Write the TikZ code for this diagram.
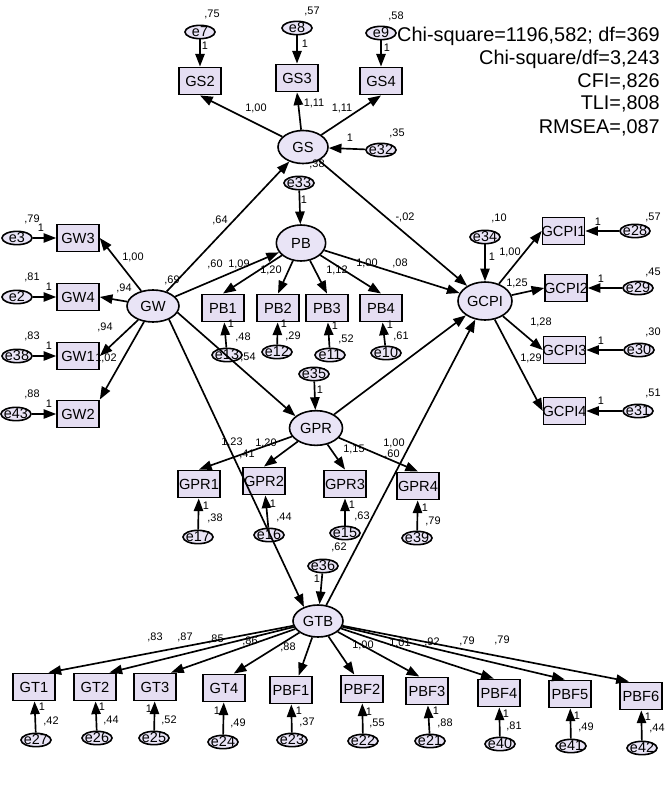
\documentclass[tikz,border=0pt]{standalone}
\usepackage{fontspec}
\setmainfont{Liberation Sans}
\usetikzlibrary{shapes.geometric,arrows.meta,calc}
\definecolor{boxfill}{RGB}{229,222,242}
\definecolor{ellfill}{RGB}{233,228,246}
\newcommand\zw[1]{\makebox[0pt]{#1}}
\newcommand\lb[3]{\node[num] (#1) at (#2) {#3};}
\tikzset{
 obs/.style={draw, line width=1.2pt, fill=boxfill, rectangle, minimum width=31.5pt, minimum height=20.5pt, inner sep=0pt, font=\fontsize{11}{13}\selectfont, text height=7.8pt, text depth=0pt},
 lat/.style={draw, line width=1.2pt, fill=ellfill, ellipse, inner sep=0pt, font=\fontsize{11}{13}\selectfont, text height=7.8pt, text depth=0pt},
 err/.style={draw, line width=1.2pt, fill=ellfill, ellipse, minimum width=22.5pt, minimum height=10pt, inner sep=0pt, font=\fontsize{10.8}{12}\selectfont, text height=6.8pt, text depth=0pt},
 num/.style={inner sep=0pt, font=\fontsize{8.2}{9}\selectfont},
 pth/.style={line width=1.25pt, -{Triangle[length=9.5pt,width=7pt]}},
 stat/.style={inner sep=0pt, anchor=base east, font=\fontsize{14.9}{17}\selectfont},
}
\begin{document}
\begin{tikzpicture}[x=0.75pt,y=-0.75pt]
\fill[white] (0,0) rectangle (669,788);
\useasboundingbox (0,0) rectangle (669,788);

% ---------- fit statistics
\node[stat] (st1) at (660,42) {Chi-square=1196,582; df=369};
\node[stat] (st2) at (660,65) {Chi-square/df=3,243};
\node[stat] (st3) at (660,88) {CFI=,826};
\node[stat] (st4) at (660,110) {TLI=,808};
\node[stat] (st5) at (660,133) {RMSEA=,087};

% ---------- latent variables
\node[lat, minimum width=37.5pt, minimum height=24.75pt] (GS) at (303,147) {\zw{GS}};
\node[lat, minimum width=39pt, minimum height=24pt] (GW) at (153,306) {\zw{GW}};
\node[lat, minimum width=37pt, minimum height=27pt] (PB) at (301,243) {\zw{PB}};
\node[lat, minimum width=40.5pt, minimum height=28.5pt] (GCPI) at (485,301) {\zw{GCPI}};
\node[lat, minimum width=39.75pt, minimum height=26pt] (GPR) at (316,428) {\zw{GPR}};
\node[lat, minimum width=37.5pt, minimum height=24pt] (GTB) at (318,621) {\zw{GTB}};

% ---------- observed variables
\node[obs] (GS2) at (200,81) {\zw{GS2}};
\node[obs] (GS3) at (297,78) {\zw{GS3}};
\node[obs] (GS4) at (381,81) {\zw{GS4}};
\node[obs] (GW3) at (78,238) {\zw{GW3}};
\node[obs] (GW4) at (78,297) {\zw{GW4}};
\node[obs] (GW1) at (78,356) {\zw{GW1}};
\node[obs] (GW2) at (78,414) {\zw{GW2}};
\node[obs] (PB1) at (223,308) {\zw{PB1}};
\node[obs] (PB2) at (278,308) {\zw{PB2}};
\node[obs] (PB3) at (327,308) {\zw{PB3}};
\node[obs] (PB4) at (381,308) {\zw{PB4}};
\node[obs] (GCPI1) at (563.5,231) {\zw{GCPI1}};
\node[obs] (GCPI2) at (566,288) {\zw{GCPI2}};
\node[obs] (GCPI3) at (564.5,350) {\zw{GCPI3}};
\node[obs] (GCPI4) at (564.5,411) {\zw{GCPI4}};
\node[obs] (GPR1) at (199,484) {\zw{GPR1}};
\node[obs] (GPR2) at (264,481) {\zw{GPR2}};
\node[obs] (GPR3) at (345,484) {\zw{GPR3}};
\node[obs] (GPR4) at (418,486) {\zw{GPR4}};
\node[obs] (GT1) at (34,687) {\zw{GT1}};
\node[obs] (GT2) at (95,687) {\zw{GT2}};
\node[obs] (GT3) at (155,687) {\zw{GT3}};
\node[obs] (GT4) at (224,688) {\zw{GT4}};
\node[obs] (PBF1) at (291,690) {\zw{PBF1}};
\node[obs] (PBF2) at (362,689) {\zw{PBF2}};
\node[obs] (PBF3) at (427,691) {\zw{PBF3}};
\node[obs] (PBF4) at (499,693) {\zw{PBF4}};
\node[obs] (PBF5) at (570,694) {\zw{PBF5}};
\node[obs] (PBF6) at (641,696) {\zw{PBF6}};

% ---------- error terms
\node[err] (e7) at (200,32) {\zw{e7}};
\node[err] (e8) at (297,28) {\zw{e8}};
\node[err] (e9) at (381,33) {\zw{e9}};
\node[err] (e32) at (381,150) {\zw{e32}};
\node[err] (e33) at (299,183) {\zw{e33}};
\node[err] (e3) at (17,238) {\zw{e3}};
\node[err] (e2) at (17,297) {\zw{e2}};
\node[err] (e38) at (17,356) {\zw{e38}};
\node[err] (e43) at (16,414) {\zw{e43}};
\node[err] (e13) at (227,355) {\zw{e13}};
\node[err] (e12) at (277,352) {\zw{e12}};
\node[err] (e11) at (330,355) {\zw{e11}};
\node[err] (e10) at (386,353) {\zw{e10}};
\node[err] (e34) at (485,237) {\zw{e34}};
\node[err] (e28) at (635,231) {\zw{e28}};
\node[err] (e29) at (638,288) {\zw{e29}};
\node[err] (e30) at (639,350) {\zw{e30}};
\node[err] (e31) at (638,411) {\zw{e31}};
\node[err] (e35) at (314,374) {\zw{e35}};
\node[err] (e17) at (198,537) {\zw{e17}};
\node[err] (e16) at (269,535) {\zw{e16}};
\node[err] (e15) at (345,533) {\zw{e15}};
\node[err] (e39) at (417,538) {\zw{e39}};
\node[err] (e36) at (323,566) {\zw{e36}};
\node[err] (e27) at (36,740) {\zw{e27}};
\node[err] (e26) at (97,738) {\zw{e26}};
\node[err] (e25) at (154,738) {\zw{e25}};
\node[err] (e24) at (223,742) {\zw{e24}};
\node[err] (e23) at (292,740) {\zw{e23}};
\node[err] (e22) at (363,741) {\zw{e22}};
\node[err] (e21) at (430,741) {\zw{e21}};
\node[err] (e40) at (500,744) {\zw{e40}};
\node[err] (e41) at (571,746) {\zw{e41}};
\node[err] (e42) at (642,748) {\zw{e42}};

% ---------- structural paths
\draw[pth] (GW) -- (GS);
\draw[pth] (GW) -- (PB);
\draw[pth] (GW.-15) -- (GPR.150);
\draw[pth] (GW.-40) -- (GTB.135);
\draw[pth] (GS) -- (GCPI);
\draw[pth] (PB) -- (GCPI);
\draw[pth] (GPR) -- (GCPI);
\draw[pth] (GTB) -- (GCPI);

% ---------- loadings
\draw[pth] (GS) -- (GS2.south);
\draw[pth] (GS) -- (GS3.south);
\draw[pth] (GS) -- (GS4.south);
\draw[pth] (GW) -- (GW3.east);
\draw[pth] (GW) -- (GW4.east);
\draw[pth] (GW) -- (GW1.east);
\draw[pth] (GW) -- (GW2.north east);
\draw[pth] (PB) -- (PB1.north);
\draw[pth] (PB) -- (PB2.north);
\draw[pth] (PB) -- (PB3.north);
\draw[pth] (PB) -- (PB4.north);
\draw[pth] (GCPI) -- (GCPI1.west);
\draw[pth] (GCPI) -- (GCPI2.west);
\draw[pth] (GCPI) -- (GCPI3.west);
\draw[pth] (GCPI) -- (GCPI4.west);
\draw[pth] (GPR) -- (GPR1.north);
\draw[pth] (GPR) -- (GPR2.north);
\draw[pth] (GPR) -- (GPR3.north);
\draw[pth] (GPR) -- (GPR4.north);
\draw[pth] (GTB) -- (GT1.45);
\draw[pth] (GTB) -- (GT2.45);
\draw[pth] (GTB) -- (GT3.42);
\draw[pth] (GTB) -- (GT4.56);
\draw[pth] (GTB) -- (PBF1.62);
\draw[pth] (GTB) -- (PBF2.118);
\draw[pth] (GTB) -- (PBF3.118);
\draw[pth] (GTB) -- (PBF4.110);
\draw[pth] (GTB) -- (PBF5.110);
\draw[pth] (GTB) -- (PBF6.130);

% ---------- error arrows
\draw[pth] (e7) -- (GS2);
\draw[pth] (e8) -- (GS3);
\draw[pth] (e9) -- (GS4);
\draw[pth] (e32) -- (GS);
\draw[pth] (e33) -- (PB);
\draw[pth] (e3) -- (GW3);
\draw[pth] (e2) -- (GW4);
\draw[pth] (e38) -- (GW1);
\draw[pth] (e43) -- (GW2);
\draw[pth] (e13) -- (PB1);
\draw[pth] (e12) -- (PB2);
\draw[pth] (e11) -- (PB3);
\draw[pth] (e10) -- (PB4);
\draw[pth] (e34) -- (GCPI);
\draw[pth] (e28) -- (GCPI1);
\draw[pth] (e29) -- (GCPI2);
\draw[pth] (e30) -- (GCPI3);
\draw[pth] (e31) -- (GCPI4);
\draw[pth] (e35) -- (GPR);
\draw[pth] (e17) -- (GPR1);
\draw[pth] (e16) -- (GPR2);
\draw[pth] (e15) -- (GPR3);
\draw[pth] (e39) -- (GPR4);
\draw[pth] (e36) -- (GTB);
\draw[pth] (e27) -- (GT1);
\draw[pth] (e26) -- (GT2);
\draw[pth] (e25) -- (GT3);
\draw[pth] (e24) -- (GT4);
\draw[pth] (e23) -- (PBF1);
\draw[pth] (e22) -- (PBF2);
\draw[pth] (e21) -- (PBF3);
\draw[pth] (e40) -- (PBF4);
\draw[pth] (e41) -- (PBF5);
\draw[pth] (e42) -- (PBF6);

% ---------- numbers: top
\lb{v7}{212,14}{,75} \lb{o7}{205,46}{1}
\lb{v8}{312,11}{,57} \lb{o8}{305,44}{1}
\lb{v9}{396,16}{,58} \lb{o9}{387,48}{1}
\lb{lGS2}{256,108}{1,00} \lb{lGS3}{314,103}{1,11} \lb{lGS4}{342,108}{1,11}
\lb{o32}{350,138}{1} \lb{v32}{397,133}{,35}
\lb{v33}{317,164}{,38} \lb{o33}{304,200}{1}
\lb{pGWGS}{220,220}{,64} \lb{pGSGCPI}{405,217}{-,02}
% left
\lb{v3}{32,219}{,79} \lb{o3}{41,228}{1}
\lb{v2}{32,277}{,81} \lb{o2}{49,287}{1}
\lb{v38}{32,336}{,83} \lb{o38}{49,346}{1}
\lb{v43}{32,394}{,88} \lb{o43}{49,404}{1}
\lb{lGW3}{133,257}{1,00} \lb{lGW4}{124,288}{,94}
\lb{lGW1}{105,327}{,94} \lb{lGW2}{106,358}{1,02}
\lb{vGW}{172,280}{,69}
% PB
\lb{pGWPB}{215,264}{,60} \lb{lPB1}{239,264}{1,09}
\lb{lPB2}{271,270}{1,20} \lb{lPB3}{337,270}{1,12}
\lb{lPB4}{367,263}{1,00} \lb{pPBGCPI}{400,263}{,08}
\lb{o13}{231,324}{1} \lb{v13}{243,337}{,48}
\lb{o12}{284,324}{1} \lb{v12}{293,336}{,29}
\lb{o11}{335,326}{1} \lb{v11}{346,339}{,52}
\lb{o10}{390,325}{1} \lb{v10}{401,336}{,61}
\lb{pGWGPR}{248,357}{,54}
% GCPI
\lb{v34}{499,218}{,10} \lb{o34}{492,257}{1}
\lb{lGCPI1}{510,252}{1,00} \lb{lGCPI2}{517,283}{1,25}
\lb{lGCPI3}{541,322}{1,28} \lb{lGCPI4}{531,358}{1,29}
\lb{o28}{598,222}{1} \lb{v28}{653,217}{,57}
\lb{o29}{601,279}{1} \lb{v29}{653,272}{,45}
\lb{o30}{601,341}{1} \lb{v30}{653,332}{,30}
\lb{o31}{601,401}{1} \lb{v31}{653,393}{,51}
% GPR
\lb{o35}{320,390}{1}
\lb{lGPR1}{232,442}{1,23} \lb{lGPR2}{266,443}{1,20}
\lb{pGWGTB}{247,454}{,41} \lb{lGPR3}{354,449}{1,15}
\lb{lGPR4}{394,443}{1,00} \lb{pGTBGCPI}{392,454}{,60}
\lb{o17}{206,506}{1} \lb{v17}{215,518}{,38}
\lb{o16}{273,504}{1} \lb{v16}{284,517}{,44}
\lb{o15}{352,505}{1} \lb{v15}{362,516}{,63}
\lb{o39}{425,508}{1} \lb{v39}{433,521}{,79}
\lb{v36}{339,547}{,62} \lb{o36}{317,579}{1}
% GTB loadings
\lb{lGT1}{155,637}{,83} \lb{lGT2}{185,637}{,87} \lb{lGT3}{216,639}{,85}
\lb{lGT4}{250,641}{,86} \lb{lPBF1}{288,647}{,88} \lb{lPBF2}{363,645}{1,00}
\lb{lPBF3}{400,643}{1,01} \lb{lPBF4}{432,642}{,92} \lb{lPBF5}{467,641}{,79}
\lb{lPBF6}{502,640}{,79}
% bottom errors
\lb{o27}{42,707}{1} \lb{v27}{51,721}{,42}
\lb{o26}{102,707}{1} \lb{v26}{111,720}{,44}
\lb{o25}{149,709}{1} \lb{v25}{169,720}{,52}
\lb{o24}{217,711}{1} \lb{v24}{238,723}{,49}
\lb{o23}{299,711}{1} \lb{v23}{307,722}{,37}
\lb{o22}{369,712}{1} \lb{v22}{377,723}{,55}
\lb{o21}{436,711}{1} \lb{v21}{445,723}{,88}
\lb{o40}{506,714}{1} \lb{v40}{514,726}{,81}
\lb{o41}{577,716}{1} \lb{v41}{586,727}{,49}
\lb{o42}{648,717}{1} \lb{v42}{657,728}{,44}
\end{tikzpicture}
\end{document}
